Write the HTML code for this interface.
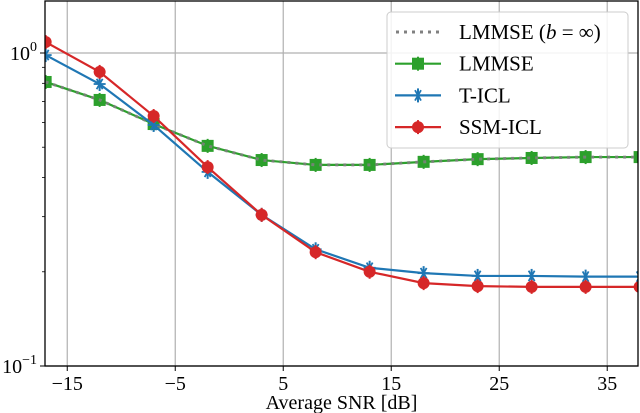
<!DOCTYPE html>
<html><head><meta charset="utf-8"><style>
html,body{margin:0;padding:0;background:#fff;}
svg{display:block;font-family:"Liberation Serif",serif;}
</style></head><body>
<svg id="chart" width="640" height="413" viewBox="0 0 640 413">
<g id="grid"></g>
<g id="series"></g>
<g id="axes"></g>
<g id="legend"></g>
</svg>
<script>
const snr = [-17, -12, -7, -2, 3, 8, 13, 18, 23, 28, 33, 38];
const lmmseInf = [0.808, 0.708, 0.593, 0.505, 0.455, 0.439, 0.439, 0.449, 0.458, 0.462, 0.465, 0.465];
const lmmse = [0.808, 0.708, 0.593, 0.505, 0.455, 0.439, 0.439, 0.449, 0.458, 0.462, 0.465, 0.465];
const ticl = [0.985, 0.796, 0.589, 0.417, 0.304, 0.236, 0.206, 0.198, 0.194, 0.194, 0.193, 0.193];
const ssmicl = [1.084, 0.870, 0.629, 0.432, 0.304, 0.231, 0.200, 0.184, 0.180, 0.179, 0.179, 0.179];
const xTicks = [-15, -5, 5, 15, 25, 35];
const yMajor = [0.1, 1];

const NS = "http://www.w3.org/2000/svg";
const L = 45, R = 638, T = 1, B = 366;
const X0 = -17.06, X1 = 37.85;
const x = v => L + (v - X0) / (X1 - X0) * (R - L);
const y = v => 366 - (Math.log10(v) + 1) * 313;
function mk(tag, attrs, parent){ const e = document.createElementNS(NS, tag); for (const k in attrs) e.setAttribute(k, attrs[k]); parent.appendChild(e); return e; }
const grid = document.getElementById('grid'), axes = document.getElementById('axes'), ser = document.getElementById('series'), leg = document.getElementById('legend');

xTicks.forEach(t => {
  const l = mk('line', {x1:x(t), x2:x(t), y1:T, y2:B, stroke:'#b0b0b0', 'stroke-width':1.2}, grid);
  
  
  mk('line', {x1:x(t), x2:x(t), y1:B, y2:B+5, stroke:'#000', 'stroke-width':1}, axes);
  const tx = mk('text', {x:x(t), y:B+24, 'text-anchor':'middle', 'font-size':20}, axes);
  tx.textContent = t < 0 ? '\u2212' + Math.abs(t) : String(t);
  
  
});
yMajor.forEach(v => {
  const l = mk('line', {x1:L, x2:R, y1:y(v), y2:y(v), stroke:'#b0b0b0', 'stroke-width':1.2}, grid);
  
  
  mk('line', {x1:L-5, x2:L, y1:y(v), y2:y(v), stroke:'#000', 'stroke-width':1}, axes);
  const tx = mk('text', {x:L-8, y:y(v)+7, 'text-anchor':'end', 'font-size':20}, axes);
  tx.innerHTML = '10<tspan dy="-9" font-size="14">' + (v < 1 ? '\u22121' : '0') + '</tspan>';
  
  
});
for (let d = 2; d <= 9; d++) {
  [0.1 * d, d].forEach(v => { if (y(v) > T && y(v) < B) mk('line', {x1:L-3, x2:L, y1:y(v), y2:y(v), stroke:'#000', 'stroke-width':0.8}, axes); });
}
const frame = mk('rect', {x:L, y:T, width:R-L, height:B-T, fill:'none', stroke:'#000', 'stroke-width':1.3}, axes);


const xt = mk('text', {x:(L+R)/2, y:409, 'text-anchor':'middle', 'font-size':20}, axes);
xt.textContent = 'Average SNR [dB]';



const cp = mk('clipPath', {id:'clip'}, document.getElementById('chart'));
mk('rect', {x:L, y:T, width:R-L, height:B-T}, cp);
ser.setAttribute('clip-path', 'url(#clip)');

function marker(g, type, cx, cy, col){
  mk('line', {x1:cx, x2:cx, y1:cy-7, y2:cy+7, stroke:col, 'stroke-width':2}, g);
  if (type === 's') mk('rect', {x:cx-6, y:cy-6, width:12, height:12, fill:col}, g);
  else if (type === 'o') mk('circle', {cx:cx, cy:cy, r:6, fill:col}, g);
  else { for (let a = 0; a < 3; a++) { const an = a * Math.PI / 3; mk('line', {x1:cx-6*Math.cos(an), y1:cy-6*Math.sin(an), x2:cx+6*Math.cos(an), y2:cy+6*Math.sin(an), stroke:col, 'stroke-width':1.8}, g); } }
}
function series(vals, col, type, name){
  const g = mk('g', {}, ser);
  
  
  mk('polyline', {points: vals.map((v,i) => x(snr[i]) + ',' + y(v)).join(' '), fill:'none', stroke:col, 'stroke-width':2.2}, g);
  vals.forEach((v,i) => marker(g, type, x(snr[i]), y(v), col));
}
series(lmmse, '#2ca02c', 's', 'lmmse-series');
const gi = mk('polyline', {points: lmmseInf.map((v,i) => x(snr[i]) + ',' + y(v)).join(' '), fill:'none', stroke:'#808080', 'stroke-width':3, 'stroke-dasharray':'3,5', opacity:0.85}, ser);


series(ticl, '#1f77b4', 'x', 'ticl-series');
series(ssmicl, '#d62728', 'o', 'ssm-icl-series');

const box = mk('rect', {x:387, y:12, width:241, height:136, rx:4, fill:'#fff', 'fill-opacity':0.85, stroke:'#ccc', 'stroke-width':1}, leg);


const entries = [['LMMSE (<tspan font-style="italic">b</tspan> = ∞)', '#808080', 'd'], ['LMMSE', '#2ca02c', 's'], ['T-ICL', '#1f77b4', 'x'], ['SSM-ICL', '#d62728', 'o']];
entries.forEach((e, i) => {
  const cy = 32 + i * 31.7;
  const g = mk('g', {}, leg);
  
  
  if (e[2] === 'd') mk('line', {x1:396, x2:441, y1:cy, y2:cy, stroke:'#808080', 'stroke-width':3, 'stroke-dasharray':'3,5'}, g);
  else { mk('line', {x1:395, x2:441, y1:cy, y2:cy, stroke:e[1], 'stroke-width':2.2}, g); marker(g, e[2], 418, cy, e[1]); }
  const t = mk('text', {x:459, y:cy+7, 'font-size':21}, g);
  t.innerHTML = e[0];
});
</script>
</body></html>
